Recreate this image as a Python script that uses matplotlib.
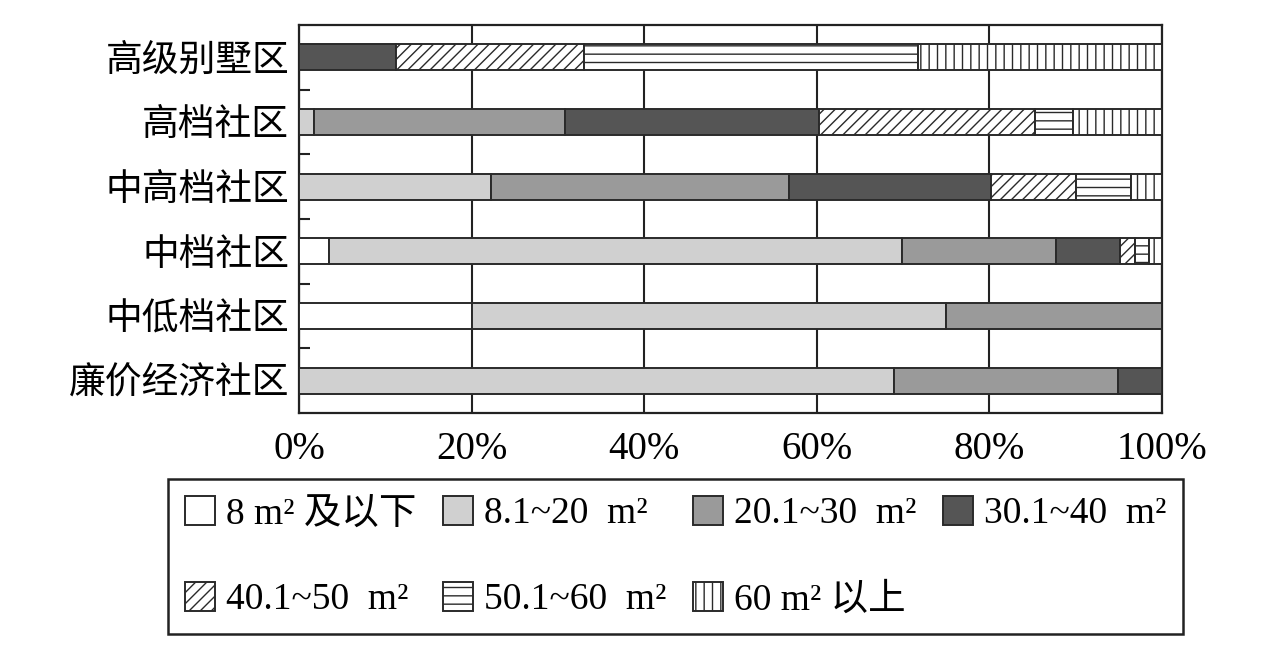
import numpy as np
import matplotlib
matplotlib.use('Agg')
import matplotlib.pyplot as plt

plt.rcParams['font.family'] = ['Liberation Serif', 'Noto Sans CJK SC']
plt.rcParams['hatch.linewidth'] = 1.0

# categories, top to bottom
categories = ['高级别墅区', '高档社区', '中高档社区', '中档社区', '中低档社区', '廉价经济社区']

# share (%) of each size class per community type
s_8 = [0, 0, 0, 3.5, 20, 0]
s_20 = [0, 1.7, 22.3, 66.4, 55, 68.9]
s_30 = [0, 29.1, 34.5, 17.8, 25, 26.0]
s_40 = [11.2, 29.5, 23.4, 7.4, 0, 5.1]
s_50 = [21.8, 25.0, 9.8, 1.8, 0, 0]
s_60 = [38.7, 4.4, 6.4, 1.6, 0, 0]
s_60p = [28.3, 10.3, 3.6, 1.5, 0, 0]

series = [s_8, s_20, s_30, s_40, s_50, s_60, s_60p]
labels = ['8 m² 及以下', '8.1~20  m²', '20.1~30  m²', '30.1~40  m²',
          '40.1~50  m²', '50.1~60  m²', '60 m² 以上']
colors = ['white', '#d0d0d0', '#9a9a9a', '#555555', 'white', 'white', 'white']
hatches = [None, None, None, None, '///', '--', '||']

x_ticks = [0, 20, 40, 60, 80, 100]

fig = plt.figure(figsize=(12.82, 6.65), dpi=100)
ax = fig.add_axes([0.2332, 0.379, 0.6732, 0.5836])

y = np.arange(len(categories))[::-1]
left = np.zeros(len(categories))
handles = []
for vals, lab, col, h in zip(series, labels, colors, hatches):
    vals = np.array(vals, dtype=float)
    b = ax.barh(y, vals, left=left, height=0.4, color=col, edgecolor='#2a2a2a',
                linewidth=1.4, hatch=h, label=lab, zorder=3)
    handles.append(b)
    left += vals

ax.set_xlim(0, 100)
ax.set_ylim(-0.5, len(categories) - 0.5)
ax.set_xticks(x_ticks)
ax.set_xticklabels([f'{v}%' for v in x_ticks], fontsize=28)
ax.set_yticks(y)
ax.set_yticklabels(categories, fontsize=26.5)
ax.set_yticks(np.arange(0.5, len(categories) - 1), minor=True)
ax.tick_params(axis='x', length=0, pad=13)
ax.tick_params(axis='y', which='major', length=0, pad=7)
ax.tick_params(axis='y', which='minor', direction='in', length=8, width=1.5, color='#222222')
ax.grid(axis='x', color='#222222', linewidth=1.5, zorder=1)
for sp in ax.spines.values():
    sp.set_linewidth(1.6)
    sp.set_color('#222222')

order = [0, 4, 1, 5, 2, 6, 3]
leg = fig.legend([handles[i] for i in order], [labels[i] for i in order],
                 loc='center', bbox_to_anchor=(0.527, 0.163), ncol=4,
                 fontsize=27, frameon=True, fancybox=False, edgecolor='#222222',
                 framealpha=1, handlelength=0.8, handleheight=0.8,
                 handletextpad=0.3, columnspacing=0.7, labelspacing=1.35,
                 borderpad=0.45)
leg.get_frame().set_linewidth(1.8)

fig.savefig('out.png', dpi=100, facecolor='white')
